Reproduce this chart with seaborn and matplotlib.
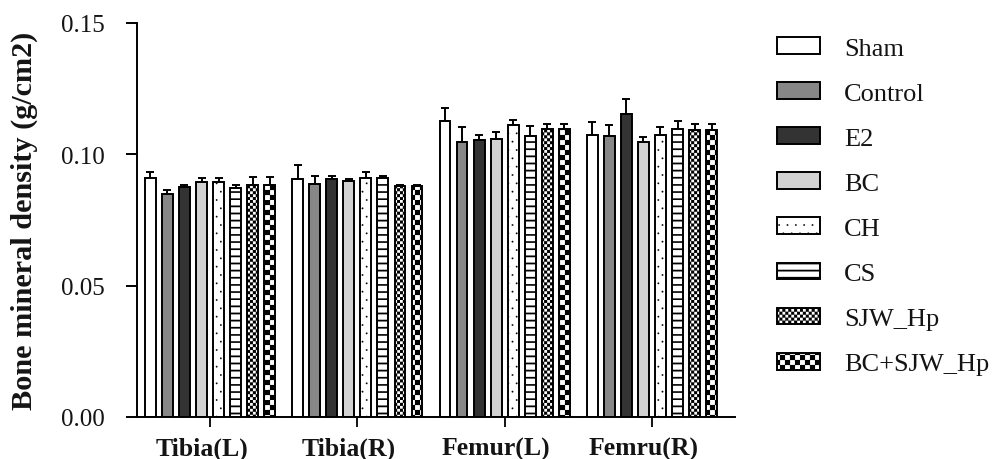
import numpy as np
import pandas as pd
import matplotlib
matplotlib.use("Agg")
import matplotlib.pyplot as plt
import matplotlib.hatch as mhatch
import matplotlib.transforms as mtransforms
from matplotlib.container import BarContainer
from matplotlib.ticker import FormatStrFormatter
import seaborn as sns

# ---------------------------------------------------------------- data
sites = ["Tibia(L)", "Tibia(R)", "Femur(L)", "Femru(R)"]
groups = ["Sham", "Control", "E2", "BC", "CH", "CS", "SJW_Hp", "BC+SJW_Hp"]

sham = [0.0908, 0.0905, 0.1125, 0.1073]
control = [0.0848, 0.0888, 0.1048, 0.1070]
e2 = [0.0877, 0.0905, 0.1056, 0.1154]
bc = [0.0895, 0.0898, 0.1060, 0.1048]
ch = [0.0896, 0.0908, 0.1111, 0.1074]
cs = [0.0872, 0.0910, 0.1069, 0.1098]
sjw_hp = [0.0883, 0.0879, 0.1096, 0.1091]
bc_sjw_hp = [0.0883, 0.0879, 0.1096, 0.1091]

sham_err = [0.0025, 0.0056, 0.0053, 0.0049]
control_err = [0.0016, 0.0030, 0.0055, 0.0041]
e2_err = [0.0005, 0.0013, 0.0018, 0.0057]
bc_err = [0.0013, 0.0007, 0.0024, 0.0017]
ch_err = [0.0012, 0.0025, 0.0020, 0.0030]
cs_err = [0.0013, 0.0007, 0.0037, 0.0030]
sjw_hp_err = [0.0030, 0.0005, 0.0020, 0.0025]
bc_sjw_hp_err = [0.0030, 0.0005, 0.0020, 0.0025]

means = [sham, control, e2, bc, ch, cs, sjw_hp, bc_sjw_hp]
errors = [sham_err, control_err, e2_err, bc_err, ch_err, cs_err,
          sjw_hp_err, bc_sjw_hp_err]

face_colors = ["white", "#878787", "#333333", "#d2d2d2",
               "white", "white", "white", "white"]
# 'o' -> fine checkerboard, 'O' -> coarse checkerboard, '*' -> horizontal stripes
hatches = ["", "", "", "", "..", "*", "o", "O"]


# ---------------------------------------------------------------- hatches
class _BlockHatch(mhatch.HatchPatternBase):
    """Hatch made of filled rectangles inside the unit hatch tile."""
    char = "?"

    def __init__(self, hatch, density):
        reps = hatch.count(self.char)
        self.rects = self.build(reps) if reps else []
        self.num_vertices = 5 * len(self.rects)

    def build(self, reps):
        return []

    def set_vertices_and_codes(self, vertices, codes):
        for k, (x0, y0, x1, y1) in enumerate(self.rects):
            vertices[5 * k:5 * k + 5] = [(x0, y0), (x1, y0), (x1, y1),
                                         (x0, y1), (x0, y0)]
            codes[5 * k:5 * k + 5] = [mhatch.Path.MOVETO, mhatch.Path.LINETO,
                                      mhatch.Path.LINETO, mhatch.Path.LINETO,
                                      mhatch.Path.CLOSEPOLY]


def _checker(cells):
    class Checker(_BlockHatch):
        def build(self, reps):
            n = cells * reps
            s = 1.0 / n
            return [(i * s, j * s, (i + 1) * s, (j + 1) * s)
                    for i in range(n) for j in range(n) if (i + j) % 2 == 0]
    return Checker


class FineChecker(_checker(34)):
    char = "o"


class CoarseChecker(_checker(20)):
    char = "O"


class Stripes(_BlockHatch):
    char = "*"

    def build(self, reps):
        n = 14 * reps
        t = 0.016
        return [(0.0, k / n, 1.0, k / n + t) for k in range(n)]


_swap = {mhatch.SmallCircles: FineChecker,
         mhatch.LargeCircles: CoarseChecker,
         mhatch.Stars: Stripes}
mhatch._hatch_types[:] = [_swap.get(h, h) for h in mhatch._hatch_types]

# ---------------------------------------------------------------- style
sns.set_style("ticks")
plt.rcParams["font.family"] = ["Liberation Serif", "DejaVu Serif"]
plt.rcParams["hatch.linewidth"] = 0.1
plt.rcParams["hatch.color"] = "black"
text_color = "#141414"

rows = [(s, g, v) for g, vals in zip(groups, means) for s, v in zip(sites, vals)]
df = pd.DataFrame(rows, columns=["site", "group", "bmd"])

fig = plt.figure(figsize=(9.93, 4.60), dpi=100)
ax = fig.add_axes([137 / 993, 42 / 460, 598 / 993, 394 / 460])

sns.barplot(data=df, x="site", y="bmd", hue="group", order=sites,
            hue_order=groups, palette=dict(zip(groups, face_colors)),
            saturation=1, width=0.926, gap=0.36, errorbar=None,
            edgecolor="black", linewidth=1.4, legend=False, ax=ax)

bar_sets = [c for c in ax.containers if isinstance(c, BarContainer)]

for cont, hatch, err in zip(bar_sets, hatches, errors):
    xs, ys = [], []
    for p in cont.patches:
        p.set_hatch(hatch)
        xs.append(p.get_x() + p.get_width() / 2)
        ys.append(p.get_height())
    ax.errorbar(xs, ys, yerr=[np.zeros(len(err)), err], fmt="none",
                ecolor="black", elinewidth=1.4, capsize=3.2, capthick=1.4,
                zorder=3)

ax.set_xlim(-0.496, 3.564)
ax.set_ylim(0, 0.15)
ax.set_yticks([0.0, 0.05, 0.10, 0.15])
ax.yaxis.set_major_formatter(FormatStrFormatter("%.2f"))
ax.set_xlabel("")
ax.set_ylabel("Bone mineral density (g/cm2)", fontsize=21.8,
              fontweight="bold", color=text_color, va="center")
ax.yaxis.set_label_coords(-0.188, 0.5)

sns.despine(ax=ax)
for side in ("left", "bottom"):
    ax.spines[side].set_linewidth(1.4)
    ax.spines[side].set_color("black")

ax.tick_params(axis="y", direction="out", length=8, width=1.4, pad=15,
               labelsize=18, labelcolor=text_color, color="black")
ax.tick_params(axis="x", direction="out", length=7, width=1.3, pad=7,
               labelsize=18.5, labelcolor=text_color, color="black")
# category names sit slightly left of their tick marks
shift = mtransforms.ScaledTranslation(-8.5 / 100, 0, fig.dpi_scale_trans)
for lbl in ax.get_xticklabels():
    lbl.set_fontweight("bold")
    lbl.set_transform(lbl.get_transform() + shift)

handles = [c.patches[0] for c in bar_sets]
leg = fig.legend(handles, groups, loc="upper left",
                 bbox_to_anchor=(777 / 993, 1 - 38 / 460),
                 frameon=False, fontsize=19, handlelength=1.64,
                 handleheight=0.6, handletextpad=0.9, labelspacing=0.85,
                 borderpad=0, borderaxespad=0)
for t in leg.get_texts():
    t.set_color(text_color)

fig.savefig("out.png", dpi=100)
